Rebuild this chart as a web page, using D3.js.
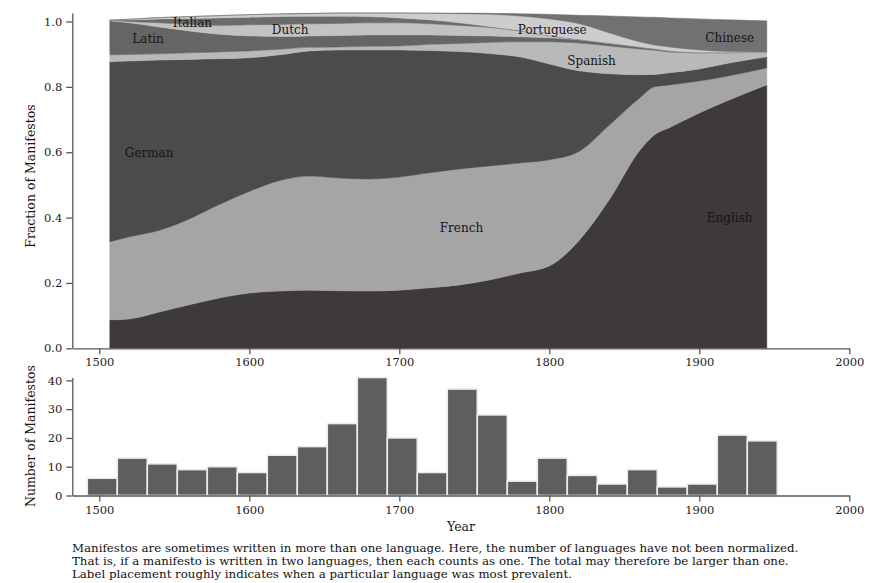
<!DOCTYPE html>
<html>
<head>
<meta charset="utf-8">
<script src="https://cdn.jsdelivr.net/npm/d3@7"></script>
<style>
  html, body { margin: 0; padding: 0; background: #fff; }
  svg { display: block; }
  .axis path, .axis line { stroke: #585858; stroke-width: 1.3; }
  .axis text { font-family: "DejaVu Serif", serif; font-size: 11.5px; fill: #1a1a1a; }
  .title { font-family: "DejaVu Serif", serif; font-size: 12.5px; fill: #1a1a1a; }
  .lang { font-family: "DejaVu Serif", serif; font-size: 12px; fill: #161616; }
  .caption { font-family: "DejaVu Serif", serif; font-size: 11.8px; fill: #111; }
</style>
</head>
<body>
<svg id="chart" width="879" height="583"></svg>
<script>
// Share of manifestos per language (smoothed), sampled by year
const years = [1507,1520,1540,1560,1580,1600,1620,1640,1660,1680,1700,1720,1740,1760,1780,1800,1820,1840,1860,1870,1880,1900,1920,1945];

const english    = [.087,.090,.111,.133,.154,.169,.175,.178,.176,.175,.178,.185,.194,.209,.230,.252,.331,.455,.604,.653,.675,.720,.760,.806];
const french     = [.239,.251,.250,.263,.286,.311,.338,.349,.345,.343,.346,.352,.355,.349,.337,.325,.272,.228,.161,.147,.131,.098,.074,.052];
const german     = [.551,.538,.521,.488,.446,.409,.385,.383,.392,.395,.389,.374,.359,.344,.325,.293,.246,.157,.072,.038,.037,.037,.039,.034];
const spanish    = [.021,.020,.019,.020,.021,.021,.017,.011,.009,.011,.012,.019,.025,.034,.046,.068,.085,.085,.079,.074,.064,.049,.031,.015];
const latin      = [.104,.097,.082,.067,.054,.046,.039,.035,.035,.035,.034,.029,.024,.020,.015,.012,.010,.008,.006,.004,.003,.001,.001,0];
const dutch      = [.001,.004,.013,.020,.027,.034,.037,.037,.037,.037,.037,.034,.031,.026,.018,.006,.001,0,0,0,0,0,0,0];
const italian    = [.001,.005,.012,.018,.023,.023,.024,.023,.022,.019,.015,.012,.008,.003,.002,.001,.001,.001,.001,.001,.001,.001,.001,0];
const portuguese = [0,.002,.004,.006,.007,.008,.008,.008,.010,.011,.015,.020,.028,.037,.044,.051,.047,.031,.015,.011,.011,.007,.002,0];
const chinese    = [0,0,0,0,0,0,0,.001,0,0,0,.001,.002,.003,.007,.014,.026,.052,.076,.085,.089,.095,.097,.095];

const languages = ["English","French","German","Spanish","Latin","Dutch","Italian","Portuguese","Chinese"];
const layerFills = ["#3e3a3b","#a5a5a5","#4b4b4b","#b9b9b9","#656565","#c2c2c2","#6b6b6b","#cdcdcd","#717171"];

// Number of manifestos per 20-year bin
const binStart = 1492;
const binWidth = 20;
const counts = [6,13,11,9,10,8,14,17,25,41,20,8,37,28,5,13,7,4,9,3,4,21,19];

const yearTicks = [1500,1600,1700,1800,1900,2000];
const fractionTicks = [0,0.2,0.4,0.6,0.8,1.0];
const countTicks = [0,10,20,30,40];

// Label anchor (left x, baseline y in data units)
const labelSpots = [
  {text:"Latin", year:1522, frac:0.933},
  {text:"Italian", year:1549, frac:0.984},
  {text:"Dutch", year:1615, frac:0.962},
  {text:"Portuguese", year:1779, frac:0.962},
  {text:"Chinese", year:1904, frac:0.937},
  {text:"Spanish", year:1812, frac:0.867},
  {text:"German", year:1517, frac:0.586},
  {text:"French", year:1727, frac:0.356},
  {text:"English", year:1905, frac:0.387}
];

const captionLines = [
  "Manifestos are sometimes written in more than one language. Here, the number of languages have not been normalized.",
  "That is, if a manifesto is written in two languages, then each counts as one. The total may therefore be larger than one.",
  "Label placement roughly indicates when a particular language was most prevalent."
];

const series = {English: english, French: french, German: german, Spanish: spanish, Latin: latin,
                Dutch: dutch, Italian: italian, Portuguese: portuguese, Chinese: chinese};
const rows = years.map((yr, i) => {
  const r = {year: yr};
  languages.forEach(l => r[l] = series[l][i]);
  return r;
});

const svg = d3.select("#chart");

const x = d3.scaleLinear().domain([1482, 2000]).range([72.3, 849.3]);

const stacked = d3.stack().keys(languages)(rows);
const maxTop = d3.max(stacked[stacked.length - 1], d => d[1]);
const yTop = d3.scaleLinear().domain([0, maxTop]).range([348.3, 13]);

const area = d3.area()
  .x(d => x(d.data.year))
  .y0(d => yTop(d[0]))
  .y1(d => yTop(d[1]))
  .curve(d3.curveMonotoneX);

svg.append("g").selectAll("path")
  .data(stacked)
  .join("path")
  .attr("d", area)
  .attr("fill", (d, i) => layerFills[i])
  .attr("stroke", (d, i) => layerFills[i])
  .attr("stroke-width", 0.5);

svg.append("g").selectAll("text")
  .data(labelSpots)
  .join("text")
  .attr("class", "lang")
  .attr("x", d => x(d.year))
  .attr("y", d => yTop(d.frac))
  .text(d => d.text);

// Upper axes
svg.append("g").attr("class", "axis")
  .attr("transform", `translate(72.3,0)`)
  .call(d3.axisLeft(yTop).tickValues(fractionTicks).tickFormat(d3.format(".1f")).tickSize(6).tickSizeOuter(0).tickPadding(4));
svg.append("g").attr("class", "axis")
  .attr("transform", `translate(0,${yTop(0)})`)
  .call(d3.axisBottom(x).tickValues(yearTicks).tickFormat(d3.format("d")).tickSize(6).tickSizeOuter(0).tickPadding(4));

svg.append("text").attr("class", "title")
  .attr("transform", `translate(35,176) rotate(-90)`)
  .attr("text-anchor", "middle")
  .text("Fraction of Manifestos");

// Histogram
const yBot = d3.scaleLinear().domain([0, d3.max(counts)]).range([495.5, 377.5]);
const bins = counts.map((c, i) => ({x0: binStart + i * binWidth, x1: binStart + (i + 1) * binWidth, n: c}));

svg.append("g").selectAll("rect")
  .data(bins)
  .join("rect")
  .attr("x", d => x(d.x0))
  .attr("width", d => x(d.x1) - x(d.x0))
  .attr("y", d => yBot(d.n))
  .attr("height", d => yBot(0) - yBot(d.n))
  .attr("fill", "#5e5e61")
  .attr("stroke", "#ececec")
  .attr("stroke-width", 1.6);

svg.append("g").attr("class", "axis")
  .attr("transform", `translate(72.3,0)`)
  .call(d3.axisLeft(yBot).tickValues(countTicks).tickSize(6).tickSizeOuter(0).tickPadding(4));
svg.append("g").attr("class", "axis")
  .attr("transform", `translate(0,${yBot(0)})`)
  .call(d3.axisBottom(x).tickValues(yearTicks).tickFormat(d3.format("d")).tickSize(6).tickSizeOuter(0).tickPadding(4));

svg.append("text").attr("class", "title")
  .attr("transform", `translate(35,436) rotate(-90)`)
  .attr("text-anchor", "middle")
  .text("Number of Manifestos");

svg.append("text").attr("class", "title")
  .attr("x", 461).attr("y", 531)
  .attr("text-anchor", "middle")
  .text("Year");

svg.append("g").selectAll("text")
  .data(captionLines)
  .join("text")
  .attr("class", "caption")
  .attr("x", 72)
  .attr("y", (d, i) => 552 + i * 13)
  .text(d => d);
</script>
</body>
</html>
